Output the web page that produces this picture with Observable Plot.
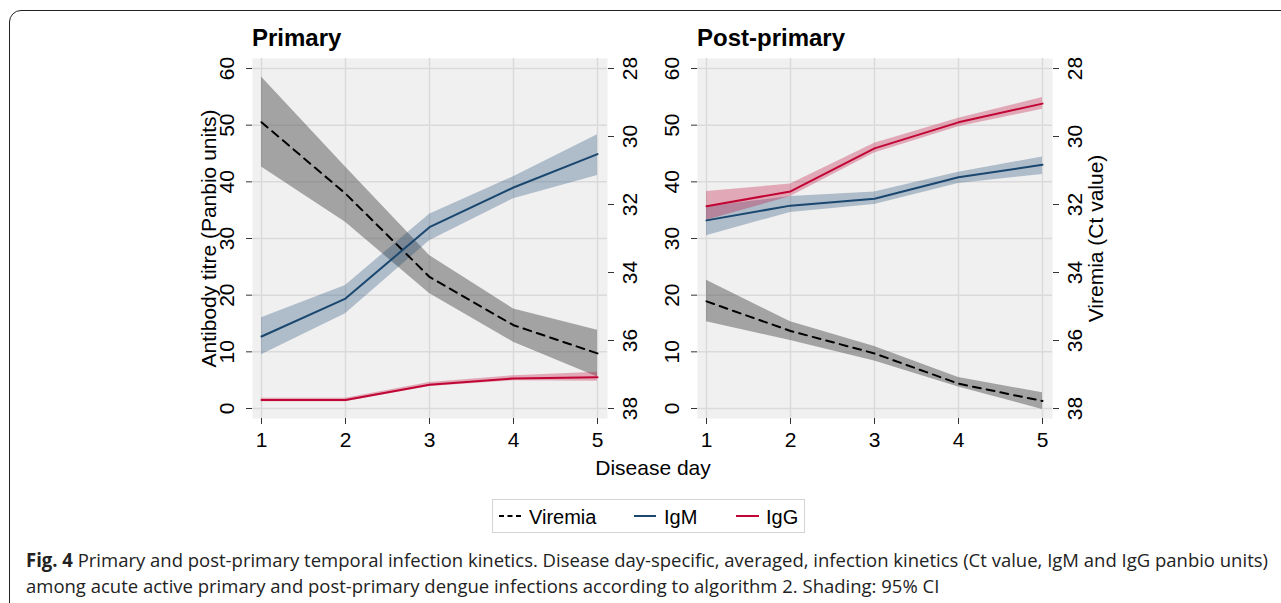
<!DOCTYPE html>
<html><head><meta charset="utf-8">
<script src="https://cdn.jsdelivr.net/npm/d3@7"></script>
<script src="https://cdn.jsdelivr.net/npm/@observablehq/plot@0.6"></script>
<style>
html,body{margin:0;padding:0;background:#fff;width:1281px;height:603px;overflow:hidden;}
#page{position:relative;width:1281px;height:603px;font-family:"Liberation Sans",Arial,sans-serif;color:#000;}
.abs{position:absolute;}
#frame{left:9px;top:10px;width:1300px;height:640px;border:1.5px solid #222;border-radius:12px;box-sizing:border-box;}
.title{font-weight:bold;font-size:24px;line-height:24px;white-space:nowrap;}
#xlabel{left:553px;width:200px;text-align:center;top:457px;font-size:21px;line-height:21px;}
#legend{left:492px;top:499px;width:313px;height:34px;border:1px solid #d4d4d4;box-sizing:border-box;}
.ltxt{font-size:20px;line-height:20px;top:7px;white-space:nowrap;}
#caption{left:26px;top:547px;transform-origin:0 0;font-family:"Open Sans","Noto Sans",sans-serif;font-size:19px;line-height:26px;color:#222;white-space:nowrap;}
#caption b{font-weight:700;}
</style>
</head><body>
<div id="page">
  <div id="frame" class="abs"></div>
  <div class="abs title" style="left:252px;top:26px;">Primary</div>
  <div class="abs title" style="left:697px;top:26px;">Post-primary</div>
  <div id="p1" class="abs" style="left:175px;top:50px;"></div>
  <div id="p2" class="abs" style="left:640px;top:50px;"></div>
  <div id="xlabel" class="abs">Disease day</div>
  <div id="legend" class="abs">
    <svg class="abs" style="left:0;top:0" width="311" height="32">
      <line x1="6" x2="31" y1="16" y2="16" stroke="#000" stroke-width="2" stroke-dasharray="5,3.5"/>
      <line x1="141" x2="163" y1="16" y2="16" stroke="#1a476f" stroke-width="2"/>
      <line x1="243" x2="266" y1="16" y2="16" stroke="#c10534" stroke-width="2"/>
    </svg>
    <div class="abs ltxt" style="left:36px;">Viremia</div>
    <div class="abs ltxt" style="left:171px;">IgM</div>
    <div class="abs ltxt" style="left:273px;">IgG</div>
  </div>
  <div id="caption" class="abs">
    <div id="cap1"><b>Fig. 4</b> Primary and post-primary temporal infection kinetics. Disease day-specific, averaged, infection kinetics (Ct value, IgM and IgG panbio units)</div>
    <div>among acute active primary and post-primary dengue infections according to algorithm 2. Shading: 95% CI</div>
  </div>
</div>
<script>
// ---- data ----
const days = [1, 2, 3, 4, 5];
const antibodyTicks = [0, 10, 20, 30, 40, 50, 60];
const ctTicks = [28, 30, 32, 34, 36, 38];

// Primary
const priIgM   = [12.7, 19.4, 32.0, 39.0, 44.9];
const priIgMLo = [9.5, 16.7, 29.6, 37.0, 41.1];
const priIgMHi = [16.0, 21.7, 34.3, 40.9, 48.3];
const priIgG   = [1.5, 1.5, 4.2, 5.3, 5.5];
const priIgGLo = [1.2, 1.2, 3.9, 4.9, 4.8];
const priIgGHi = [1.8, 1.8, 4.6, 5.8, 6.4];
const priCt    = [29.58, 31.68, 34.13, 35.55, 36.38];
const priCtLo  = [28.25, 30.9, 33.5, 35.07, 35.7];
const priCtHi  = [30.9, 32.52, 34.62, 36.05, 37.07];

// Post-primary
const postIgM   = [33.2, 35.8, 37.0, 40.8, 43.0];
const postIgMLo = [30.5, 34.6, 36.0, 39.7, 41.3];
const postIgMHi = [35.6, 37.4, 38.2, 41.7, 44.4];
const postIgG   = [35.7, 38.3, 45.9, 50.5, 53.8];
const postIgGLo = [33.2, 37.4, 45.1, 49.7, 52.8];
const postIgGHi = [38.3, 39.6, 46.8, 51.2, 54.9];
const postCt    = [34.85, 35.72, 36.38, 37.27, 37.78];
const postCtLo  = [34.23, 35.45, 36.18, 37.09, 37.54];
const postCtHi  = [35.45, 36.0, 36.6, 37.37, 38.03];

// Ct axis (right, reversed 28..38) mapped onto the antibody scale (60..0)
const ctToY = ct => (38 - ct) * 6;
const yToCt = y => Math.round((38 - y / 6) * 100) / 100;

const NAVY = "#1a476f", RED = "#c10534";
const FONT = '"Liberation Sans", Arial, sans-serif';

function panel(s, width, marginLeft, marginRight) {
  const rows = days.map((d, i) => ({
    day: d,
    igm: s.igm[i], igmLo: s.igmLo[i], igmHi: s.igmHi[i],
    igg: s.igg[i], iggLo: s.iggLo[i], iggHi: s.iggHi[i],
    ct: s.ct[i], ctLo: s.ctLo[i], ctHi: s.ctHi[i]
  }));
  return Plot.plot({
    width, height: 410,
    marginTop: 8, marginBottom: 42, marginLeft, marginRight,
    insetLeft: 9, insetRight: 10, insetTop: 10, insetBottom: 10,
    x: {domain: [1, 5], axis: null},
    y: {domain: [0, 60], axis: null},
    style: {fontFamily: FONT, fontSize: "21px", background: "transparent", color: "#000", overflow: "visible"},
    marks: [
      Plot.frame({fill: "#f0f0f0", stroke: "none"}),
      Plot.gridX(days, {stroke: "#dadada", strokeOpacity: 1, strokeWidth: 1.5}),
      Plot.gridY(antibodyTicks, {stroke: "#dadada", strokeOpacity: 1, strokeWidth: 1.5}),
      Plot.areaY(rows, {x: "day", y1: d => ctToY(d.ctLo), y2: d => ctToY(d.ctHi), fill: "#555", fillOpacity: 0.5}),
      Plot.areaY(rows, {x: "day", y1: "igmLo", y2: "igmHi", fill: NAVY, fillOpacity: 0.3}),
      Plot.areaY(rows, {x: "day", y1: "iggLo", y2: "iggHi", fill: RED, fillOpacity: 0.3}),
      Plot.lineY(rows, {x: "day", y: d => ctToY(d.ct), stroke: "#000", strokeWidth: 2, strokeDasharray: "8,6"}),
      Plot.lineY(rows, {x: "day", y: "igm", stroke: NAVY, strokeWidth: 2}),
      Plot.lineY(rows, {x: "day", y: "igg", stroke: RED, strokeWidth: 2}),
      Plot.axisX(days, {tickSize: 6, tickPadding: 8, tickFormat: d => String(d), label: null, fontSize: 21, stroke: "#333"}),
      Plot.axisY(antibodyTicks, {anchor: "left", tickSize: 6, tickPadding: 13, tickRotate: -90, label: null, fontSize: 21, stroke: "#333"}),
      Plot.axisY(ctTicks.map(ctToY), {anchor: "right", tickSize: 6, tickPadding: 9, tickRotate: -90, lineAnchor: "top",
        tickFormat: yToCt, label: null, fontSize: 21, stroke: "#333"}),
      ...(s.leftLabel ? [Plot.text([s.leftLabel], {frameAnchor: "left", rotate: -90, dx: -37, textAnchor: "middle", lineAnchor: "bottom", fontSize: 21})] : []),
      ...(s.rightLabel ? [Plot.text([s.rightLabel], {frameAnchor: "right", rotate: -90, dx: 50, textAnchor: "middle", lineAnchor: "bottom", fontSize: 21})] : [])
    ]
  });
}

document.getElementById("p1").appendChild(panel({
  igm: priIgM, igmLo: priIgMLo, igmHi: priIgMHi,
  igg: priIgG, iggLo: priIgGLo, iggHi: priIgGHi,
  ct: priCt, ctLo: priCtLo, ctHi: priCtHi,
  leftLabel: "Antibody titre (Panbio units)"
}, 465, 77, 33));

document.getElementById("p2").appendChild(panel({
  igm: postIgM, igmLo: postIgMLo, igmHi: postIgMHi,
  igg: postIgG, iggLo: postIgGLo, iggHi: postIgGHi,
  ct: postCt, ctLo: postCtLo, ctHi: postCtHi,
  rightLabel: "Viremia (Ct value)"
}, 480, 57, 68));

// fit caption line 1 to its width in the reference
const cap1 = document.getElementById("cap1");
const w = cap1.getBoundingClientRect().width;
if (w > 0) document.getElementById("caption").style.transform = `scaleX(${1242 / w})`;
</script>
</body></html>
